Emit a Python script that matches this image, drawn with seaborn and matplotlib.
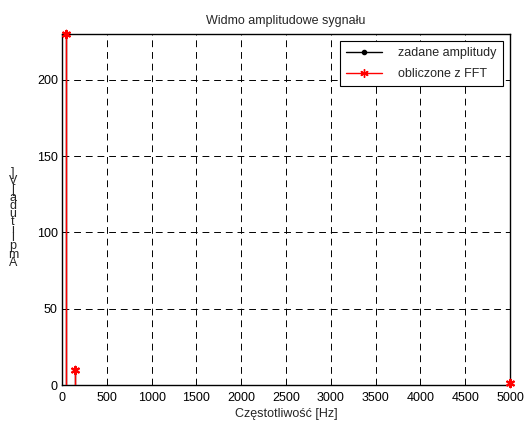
import matplotlib
matplotlib.use("Agg")
import matplotlib.pyplot as plt
import seaborn as sns
import pandas as pd
from matplotlib.lines import Line2D

freqs = [50, 150, 5000]
given_amp = [230, 10, 1]
fft_amp = [230, 10, 1]

sns.set_style("white")
plt.rcParams['font.family'] = ['Liberation Sans', 'DejaVu Sans']
plt.rcParams['font.size'] = 9

fig = plt.figure(figsize=(5.24, 4.21), dpi=100)
ax = fig.add_axes([62/524, 1-385/421, (510-62)/524, (385-34)/421])

df_g = pd.DataFrame({"f": freqs, "a": given_amp})
df_f = pd.DataFrame({"f": freqs, "a": fft_amp})

ax.vlines(df_g["f"], 0, df_g["a"], color="black", lw=1.0, zorder=3)
sns.scatterplot(data=df_g, x="f", y="a", ax=ax, color="black", marker="o", s=10,
                edgecolor="black", zorder=4, legend=False)
ax.vlines(df_f["f"], 0, df_f["a"], color="red", lw=1.0, zorder=5)
sns.scatterplot(data=df_f, x="f", y="a", ax=ax, color="red", marker=(6, 2, 0), s=28,
                linewidth=1.6, edgecolor="red", zorder=6, legend=False, clip_on=False)

ax.set_xlim(0, 5000)
ax.set_ylim(0, 230)
ax.set_xticks(range(0, 5001, 500))
ax.set_yticks(range(0, 201, 50))
ax.grid(True, color="black", linestyle=(0, (7, 5)), linewidth=0.7)
ax.tick_params(direction="in", length=4, labelsize=9, colors="black")
ax.tick_params(axis="x", pad=5)
ax.tick_params(axis="y", pad=3)
for s in ax.spines.values():
    s.set_color("black")
    s.set_linewidth(1.0)
ax.set_title("Widmo amplitudowe sygnału", fontsize=9, pad=7)
ax.set_xlabel("Częstotliwość [Hz]", fontsize=9, labelpad=3)
ax.set_ylabel("")

chars = list("Amplituda [V]".replace(" ", ""))
fig.text(13/524, 1-218/421, "\n".join(reversed(chars)), ha="center", va="center",
         fontsize=9, linespacing=0.57)

handles = [Line2D([0, 1], [0, 0], color="black", lw=1, marker="o", markersize=3, markevery=[1]),
           Line2D([0, 1], [0, 0], color="red", lw=1, marker=(6, 2, 0), markersize=6, markevery=[1])]
leg = ax.legend(handles, ["zadane amplitudy", "obliczone z FFT"], loc="upper right",
                fontsize=9, frameon=True, fancybox=False, edgecolor="black",
                framealpha=1, borderpad=0.5, handlelength=2.9, handletextpad=1.3,
                labelspacing=0.7, borderaxespad=0,
                bbox_to_anchor=((503-62)/448, (385-41)/351))
leg.get_frame().set_linewidth(0.8)

fig.savefig("out.png", dpi=100)
